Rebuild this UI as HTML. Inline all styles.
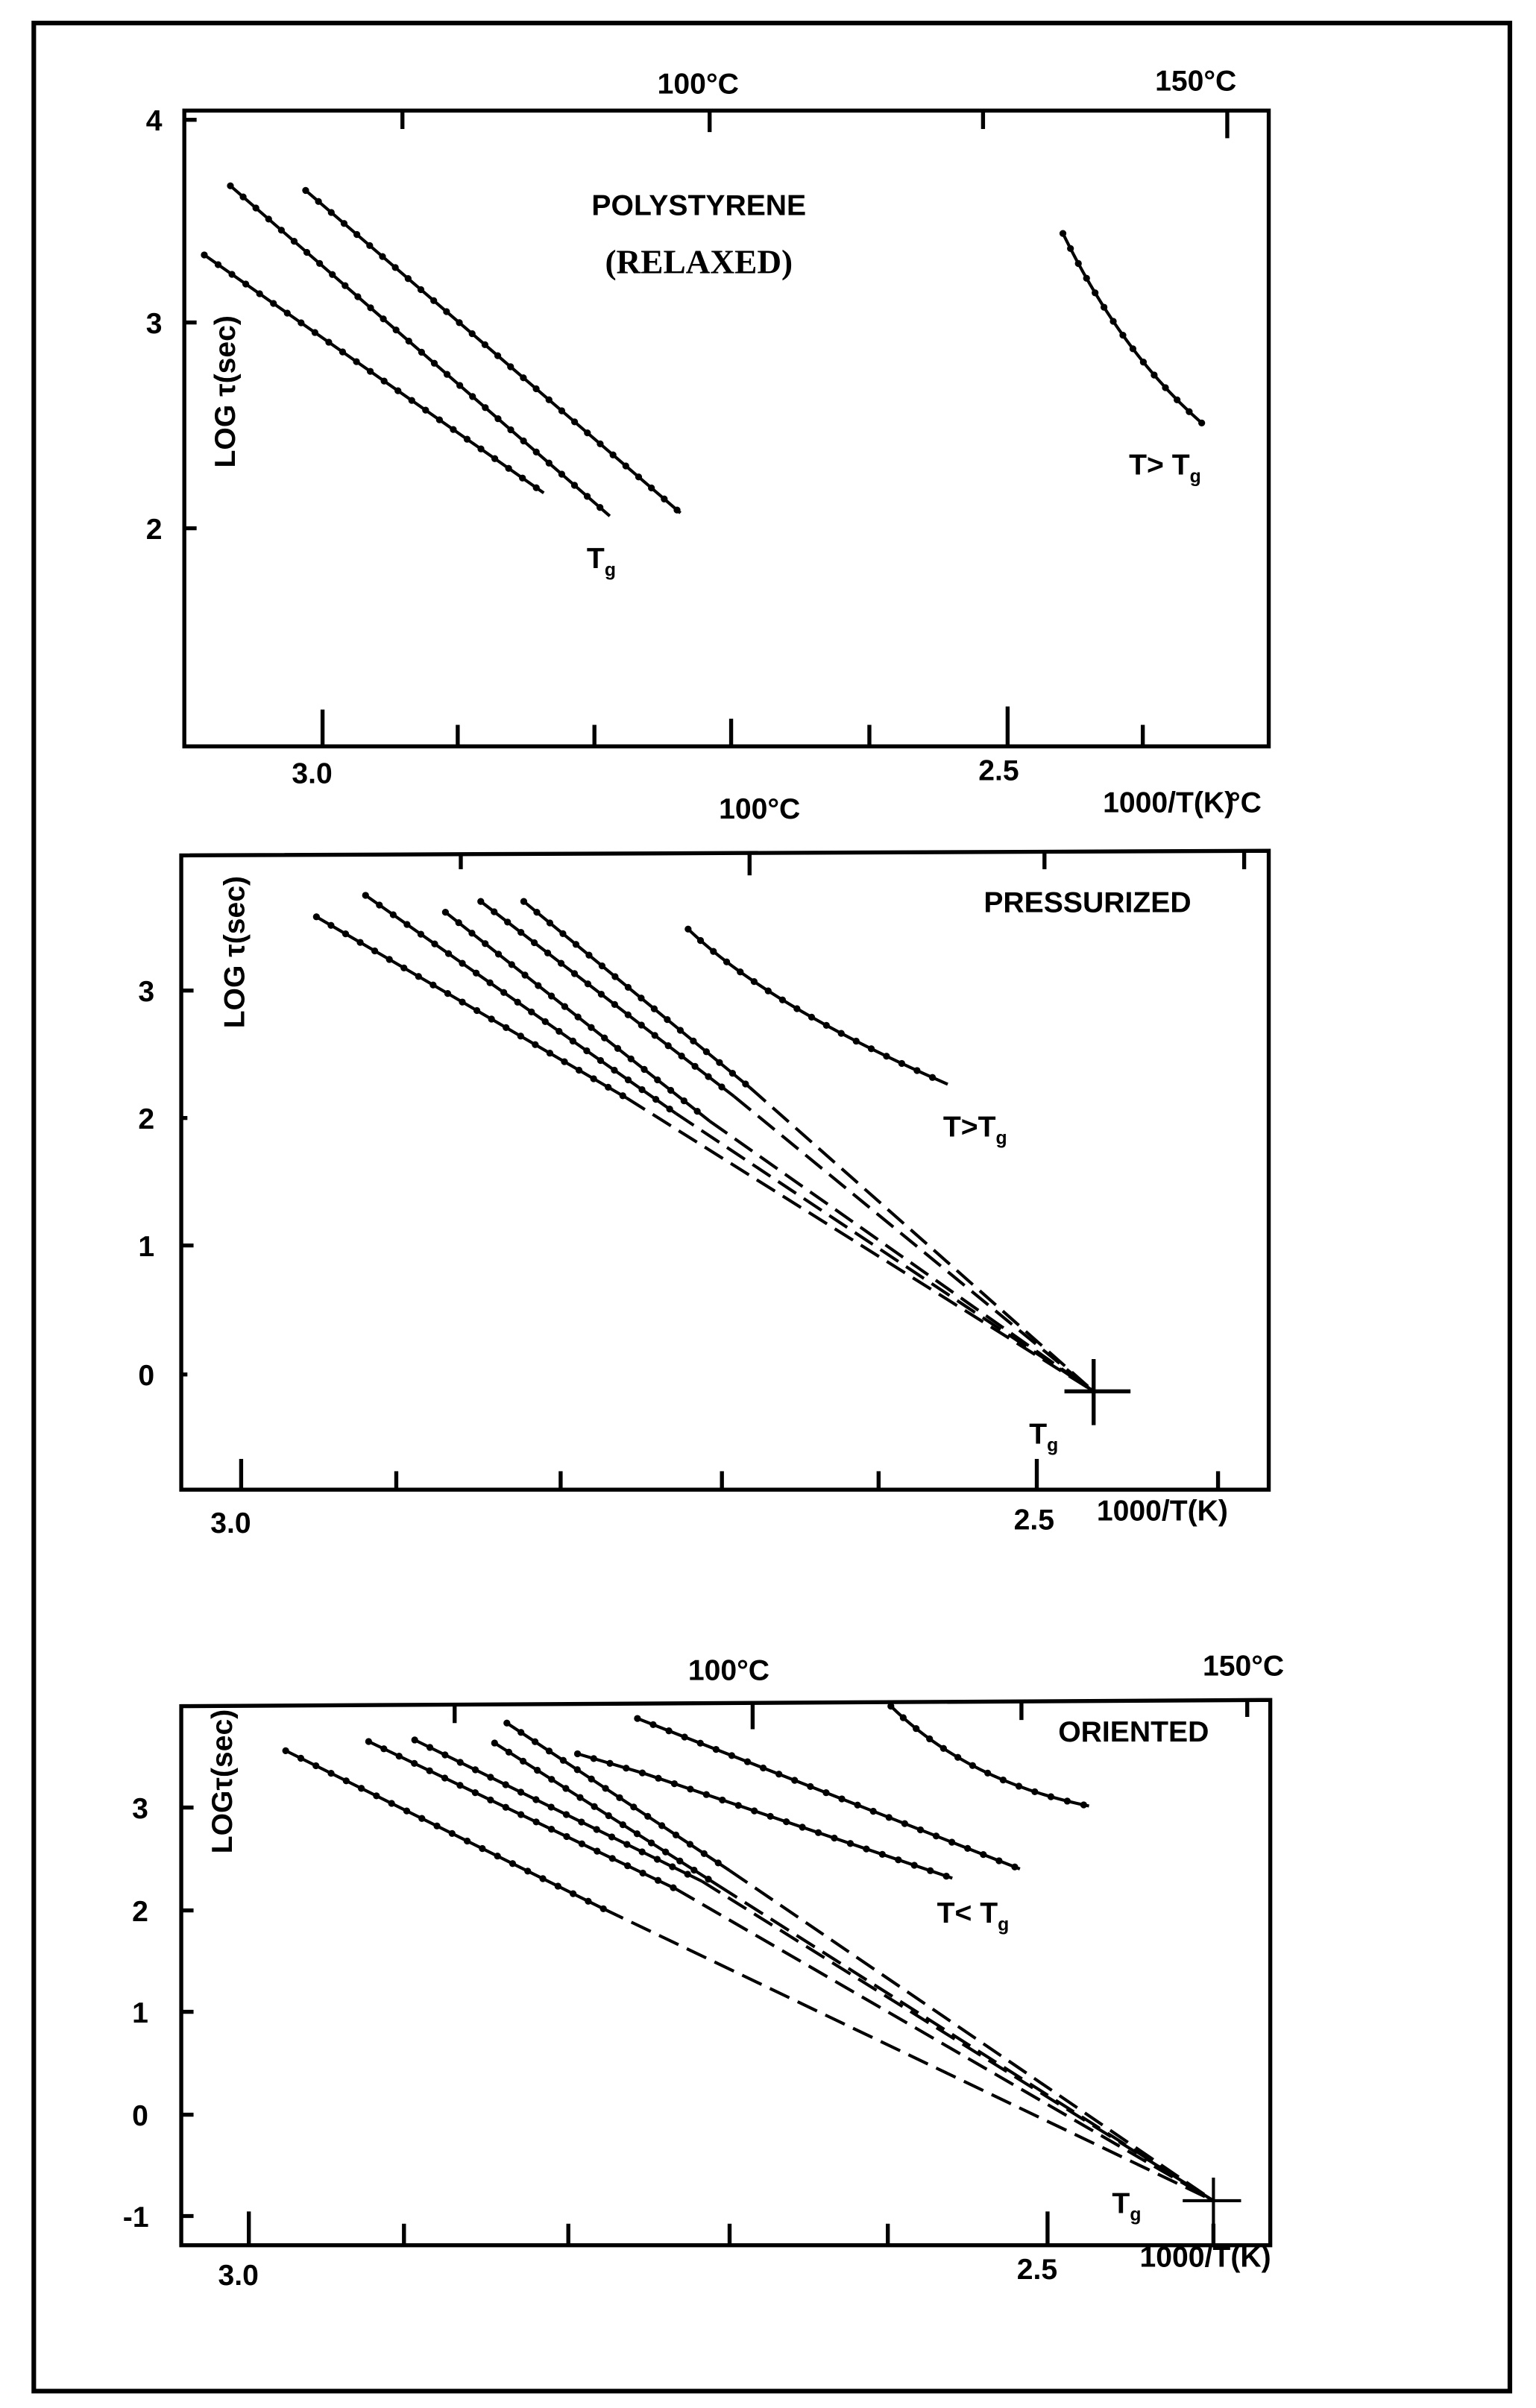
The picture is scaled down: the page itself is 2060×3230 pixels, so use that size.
<!DOCTYPE html>
<html><head><meta charset="utf-8"><style>
html,body{margin:0;padding:0;background:#fff}
svg{display:block}
text{font-family:"Liberation Sans",sans-serif;font-size:19px;font-weight:bold;fill:#000}
.s{stroke:#000;stroke-width:2;fill:none}
.d{stroke:#000;stroke-width:4.5;fill:none;stroke-dasharray:0 11;stroke-linecap:round}
.ds{stroke:#000;stroke-width:2;fill:none;stroke-dasharray:14 6}
.ax{stroke:#000;stroke-width:2.6;fill:none}
</style></head><body>
<svg width="2060" height="3230" viewBox="0 0 1000 1568" preserveAspectRatio="none">
<rect x="22" y="15" width="961" height="1542" fill="none" stroke="#000" stroke-width="3"/>

<!-- Panel 1 -->
<rect x="120" y="72" width="706" height="414" class="ax"/>
<g class="ax">
<line x1="120" y1="78" x2="128" y2="78"/><line x1="120" y1="210" x2="128" y2="210"/><line x1="120" y1="344" x2="128" y2="344"/>
<line x1="210" y1="486" x2="210" y2="462"/><line x1="298" y1="486" x2="298" y2="472"/><line x1="387" y1="486" x2="387" y2="472"/><line x1="476" y1="486" x2="476" y2="468"/><line x1="566" y1="486" x2="566" y2="472"/><line x1="656" y1="486" x2="656" y2="460"/><line x1="744" y1="486" x2="744" y2="472"/>
<line x1="262" y1="72" x2="262" y2="84"/><line x1="462" y1="72" x2="462" y2="86"/><line x1="640" y1="72" x2="640" y2="84"/><line x1="799" y1="72" x2="799" y2="90"/>
</g>
<text x="95" y="85">4</text><text x="95" y="217">3</text><text x="95" y="351">2</text>
<text x="190" y="510">3.0</text><text x="637" y="508">2.5</text>
<text x="428" y="61">100°C</text><text x="752" y="59">150°C</text>
<text x="718" y="529">1000/T(K)</text><text x="800" y="529">°C</text>
<text x="468" y="533">100°C</text>
<text x="455" y="140" text-anchor="middle">POLYSTYRENE</text>
<text x="455" y="178" text-anchor="middle" style="font-family:'Liberation Serif',serif;font-size:22px">(RELAXED)</text>
<text transform="translate(153,255) rotate(-90)" text-anchor="middle">LOG τ(sec)</text>
<text x="382" y="370">T<tspan font-size="12" dy="5">g</tspan></text>
<text x="735" y="309">T&gt; T<tspan font-size="12" dy="5">g</tspan></text>
<g>
<polyline class="s" points="133,166 354,321"/><polyline class="d" points="133,166 354,321"/>
<polyline class="s" points="150,121 397,336"/><polyline class="d" points="150,121 397,336"/>
<polyline class="s" points="199,124 443,334"/><polyline class="d" points="199,124 443,334"/>
<path class="s" d="M692,152 Q730,230 783,276"/><path class="d" d="M692,152 Q730,230 783,276"/>
</g>

<!-- Panel 2 -->
<path class="ax" d="M118,557 L826,554 L826,970 L118,970 Z"/>
<g class="ax">
<line x1="118" y1="645" x2="126" y2="645"/><line x1="118" y1="728" x2="122" y2="728"/><line x1="118" y1="811" x2="126" y2="811"/><line x1="118" y1="895" x2="122" y2="895"/>
<line x1="157" y1="970" x2="157" y2="950"/><line x1="258" y1="970" x2="258" y2="958"/><line x1="365" y1="970" x2="365" y2="958"/><line x1="470" y1="970" x2="470" y2="958"/><line x1="572" y1="970" x2="572" y2="958"/><line x1="675" y1="970" x2="675" y2="950"/><line x1="793" y1="970" x2="793" y2="958"/>
<line x1="300" y1="556" x2="300" y2="566"/><line x1="488" y1="555" x2="488" y2="570"/><line x1="680" y1="555" x2="680" y2="566"/><line x1="810" y1="554" x2="810" y2="566"/>
</g>
<text x="90" y="652">3</text><text x="90" y="735">2</text><text x="90" y="818">1</text><text x="90" y="902">0</text>
<text x="137" y="998">3.0</text><text x="660" y="996">2.5</text><text x="714" y="990">1000/T(K)</text>
<text x="708" y="594" text-anchor="middle">PRESSURIZED</text>
<text transform="translate(159,620) rotate(-90)" text-anchor="middle">LOG τ(sec)</text>
<text x="670" y="940">T<tspan font-size="12" dy="5">g</tspan></text>
<text x="614" y="740">T&gt;T<tspan font-size="12" dy="5">g</tspan></text>
<g>
<polyline class="s" points="206,597 408,715"/><polyline class="d" points="206,597 408,715"/><polyline class="ds" points="408,715 712,906"/>
<polyline class="s" points="238,583 440,725"/><polyline class="d" points="238,583 440,725"/><polyline class="ds" points="440,725 712,906"/>
<polyline class="s" points="290,594 462,730"/><polyline class="d" points="290,594 462,730"/><polyline class="ds" points="462,730 712,906"/>
<polyline class="s" points="313,587 478,714"/><polyline class="d" points="313,587 478,714"/><polyline class="ds" points="478,714 712,906"/>
<polyline class="s" points="341,587 488,708"/><polyline class="d" points="341,587 488,708"/><polyline class="ds" points="488,708 712,906"/>
<path class="s" d="M448,605 Q500,655 617,706"/><path class="d" d="M448,605 Q500,655 617,706"/>
<line x1="693" y1="906" x2="736" y2="906" class="ax"/><line x1="712" y1="885" x2="712" y2="928" class="ax"/>
</g>

<!-- Panel 3 -->
<path class="ax" d="M118,1111 L821,1107 L827,1107 L827,1462 L118,1462 Z"/>
<g class="ax">
<line x1="118" y1="1177" x2="126" y2="1177"/><line x1="118" y1="1244" x2="126" y2="1244"/><line x1="118" y1="1310" x2="126" y2="1310"/><line x1="118" y1="1377" x2="126" y2="1377"/><line x1="118" y1="1443" x2="126" y2="1443"/>
<line x1="162" y1="1462" x2="162" y2="1440"/><line x1="263" y1="1462" x2="263" y2="1448"/><line x1="370" y1="1462" x2="370" y2="1448"/><line x1="475" y1="1462" x2="475" y2="1448"/><line x1="578" y1="1462" x2="578" y2="1448"/><line x1="682" y1="1462" x2="682" y2="1440"/><line x1="790" y1="1462" x2="790" y2="1448"/>
<line x1="296" y1="1110" x2="296" y2="1122"/><line x1="490" y1="1109" x2="490" y2="1126"/><line x1="665" y1="1108" x2="665" y2="1120"/><line x1="812" y1="1107" x2="812" y2="1118"/>
</g>
<text x="86" y="1184">3</text><text x="86" y="1251">2</text><text x="86" y="1317">1</text><text x="86" y="1384">0</text><text x="80" y="1450">-1</text>
<text x="142" y="1488">3.0</text><text x="662" y="1484">2.5</text><text x="742" y="1476">1000/T(K)</text>
<text x="448" y="1094">100°C</text><text x="783" y="1091">150°C</text>
<text x="738" y="1134" text-anchor="middle">ORIENTED</text>
<text transform="translate(151,1160) rotate(-90)" text-anchor="middle">LOGτ(sec)</text>
<text x="724" y="1441">T<tspan font-size="12" dy="5">g</tspan></text>
<text x="610" y="1252">T&lt; T<tspan font-size="12" dy="5">g</tspan></text>
<g>
<polyline class="s" points="186,1140 393,1243"/><polyline class="d" points="186,1140 393,1243"/><polyline class="ds" points="393,1243 790,1433"/>
<polyline class="s" points="240,1134 440,1230"/><polyline class="d" points="240,1134 440,1230"/><polyline class="ds" points="440,1230 790,1433"/>
<polyline class="s" points="270,1133 457,1225"/><polyline class="d" points="270,1133 457,1225"/><polyline class="ds" points="457,1225 790,1433"/>
<polyline class="s" points="322,1135 468,1228"/><polyline class="d" points="322,1135 468,1228"/><polyline class="ds" points="468,1228 790,1433"/>
<polyline class="s" points="330,1122 475,1218"/><polyline class="d" points="330,1122 475,1218"/><polyline class="ds" points="475,1218 790,1433"/>
<polyline class="s" points="376,1142 420,1155 620,1223"/><polyline class="d" points="376,1142 420,1155 620,1223"/>
<polyline class="s" points="415,1119 664,1217"/><polyline class="d" points="415,1119 664,1217"/>
<path class="s" d="M580,1111 Q630,1160 709,1176"/><path class="d" d="M580,1111 Q630,1160 709,1176"/>
<line x1="770" y1="1433" x2="808" y2="1433" class="s"/><line x1="790" y1="1418" x2="790" y2="1452" class="s"/>
</g>
</svg>
</body></html>
